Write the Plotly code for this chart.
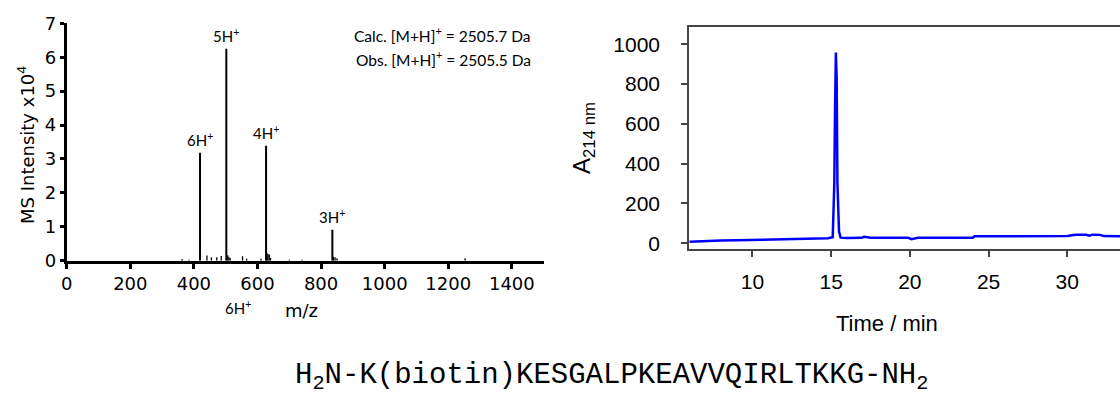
import plotly.graph_objects as go

# ---- Mass spectrum (m/z vs intensity, x10^4) ----
main_mz = [419.3, 502.0, 627.0, 835.5]
main_int = [3.18, 6.25, 3.39, 0.91]
main_labels = ["6H<sup>+</sup>", "5H<sup>+</sup>", "4H<sup>+</sup>", "3H<sup>+</sup>"]

minor_mz = [363, 385, 441, 455, 472, 486, 506, 510, 514, 553, 566, 611, 630, 633, 637, 641,
            700, 740, 839, 844, 850, 1253]
minor_int = [0.05, 0.03, 0.15, 0.10, 0.10, 0.14, 0.16, 0.12, 0.08, 0.13, 0.06, 0.06, 0.22, 0.20,
             0.18, 0.08, 0.03, 0.03, 0.12, 0.10, 0.07, 0.07]

ms_xticks = [0, 200, 400, 600, 800, 1000, 1200, 1400]
ms_yticks = [0, 1, 2, 3, 4, 5, 6, 7]

# ---- HPLC chromatogram (time vs A214) ----
time_min = [6.0, 7, 8, 9, 10, 11, 12, 13, 14, 14.8, 15.1, 15.2, 15.25, 15.3, 15.35, 15.4,
            15.5, 15.6, 16, 16.9, 17.1, 17.5, 18, 19, 19.9, 20.1, 20.3, 20.5, 21, 22, 23,
            24, 24.1, 25, 26, 27, 28, 29, 30, 30.4, 30.6, 31.2, 31.4, 31.6, 32.1, 32.3,
            33, 33.6]
a214 = [8, 12, 14, 15, 17, 18, 20, 21, 23, 25, 30, 300, 690, 958, 830, 300,
        60, 28, 26, 27, 32, 28, 27, 27, 27, 20, 25, 27, 27, 28, 28,
        28, 35, 35, 35, 35, 35, 35, 36, 41, 43, 42, 38, 43, 42, 36,
        35, 35]

hplc_xticks = [10, 15, 20, 25, 30]
hplc_yticks = [0, 200, 400, 600, 800, 1000]

sequence = "H<sub>2</sub>N-K(biotin)KESGALPKEAVVQIRLTKKG-NH<sub>2</sub>"


def sticks(xs, ys):
    px, py = [], []
    for x, y in zip(xs, ys):
        px += [x, x, None]
        py += [0, y, None]
    return px, py


W, H = 1120, 394
fig = go.Figure()

mx, my = sticks(minor_mz, minor_int)
fig.add_trace(go.Scatter(x=mx, y=my, mode="lines", line=dict(color="black", width=1.3),
                         xaxis="x", yaxis="y", showlegend=False, hoverinfo="skip"))
px, py = sticks(main_mz, main_int)
fig.add_trace(go.Scatter(x=px, y=py, mode="lines", line=dict(color="black", width=2),
                         xaxis="x", yaxis="y", showlegend=False, hoverinfo="skip"))

fig.add_trace(go.Scatter(x=time_min, y=a214, mode="lines",
                         line=dict(color="#0000ff", width=2.5),
                         xaxis="x2", yaxis="y2", showlegend=False, hoverinfo="skip"))

ms_font = dict(family="DejaVu Sans", size=18, color="black")
lc_font = dict(family="Liberation Sans", size=21, color="black")

fig.update_layout(
    width=W, height=H,
    margin=dict(l=0, r=0, t=0, b=0, pad=0, autoexpand=False),
    paper_bgcolor="white", plot_bgcolor="white",
    xaxis=dict(domain=[66.7 / W, 544.3 / W], range=[0, 1502], anchor="y", automargin=False,
               tickvals=ms_xticks, ticks="outside", ticklen=5, tickwidth=3,
               tickcolor="black", showline=True, linewidth=3, linecolor="black",
               showgrid=False, zeroline=False, tickfont=ms_font),
    yaxis=dict(domain=[(H - 260.7) / H, (H - 23.3) / H], range=[0, 7], anchor="x",
               automargin=False,
               tickvals=ms_yticks, ticks="outside", ticklen=4, tickwidth=3,
               tickcolor="black", showline=True, linewidth=3, linecolor="black",
               showgrid=False, zeroline=False, tickfont=ms_font),
    xaxis2=dict(domain=[689 / W, 1.0], range=[5.97, 33.35], anchor="y2", automargin=False,
                tickvals=hplc_xticks, ticks="outside", ticklen=6, tickwidth=1.5,
                tickcolor="#444", showline=True, linewidth=1.5, linecolor="#444",
                mirror=True, showgrid=False, zeroline=False, tickfont=lc_font,
                ticklabelstandoff=7),
    yaxis2=dict(domain=[(H - 249) / H, (H - 26.7) / H], range=[-29, 1088], anchor="x2",
                automargin=False,
                tickvals=hplc_yticks, ticks="outside", ticklen=6, tickwidth=1.5,
                tickcolor="#444", showline=True, linewidth=1.5, linecolor="#444",
                showgrid=False, zeroline=False, tickfont=lc_font,
                ticklabelstandoff=17),
)

ann = []
lbl_font = dict(family="Lato", size=15, color="black")
for x, y, t in zip(main_mz, main_int, main_labels):
    ann.append(dict(x=x, y=y, xref="x", yref="y", text=t, showarrow=False,
                    xanchor="center", yanchor="bottom", yshift=2, font=lbl_font))


def paper_text(x, y, text, font, xanchor="center", angle=0):
    return dict(x=x / W, y=(H - y) / H, xref="paper", yref="paper", showarrow=False,
                xanchor=xanchor, yanchor="middle", textangle=angle, text=text, font=font)


note_font = dict(family="Lato", size=15.5, color="black")
ann.append(paper_text(533, 35, "Calc. [M+H]<sup>+</sup> = 2505.7 Da", note_font, "right"))
ann.append(paper_text(533, 58, "Obs. [M+H]<sup>+</sup> = 2505.5 Da", note_font, "right"))
ann.append(paper_text(238, 307, "6H<sup>+</sup>", lbl_font))
ann.append(paper_text(301, 310, "m/z", ms_font))
ann.append(paper_text(26, 145, "MS Intensity x10<sup>4</sup>", ms_font, angle=-90))

ann.append(paper_text(887, 323, "Time / min",
                      dict(family="Liberation Sans", size=22, color="black")))
ann.append(paper_text(583, 138, "A<sub>214 nm</sub>",
                      dict(family="Liberation Sans", size=24, color="black"), angle=-90))

ann.append(paper_text(611, 377, sequence,
                      dict(family="Liberation Mono", size=29, color="black")))

fig.update_layout(annotations=ann)
fig.write_html("out.html")
